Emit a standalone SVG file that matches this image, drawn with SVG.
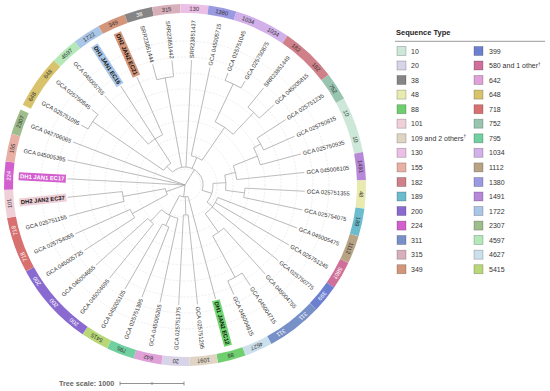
<svg xmlns="http://www.w3.org/2000/svg" width="550" height="391" viewBox="0 0 550 391">
<style>
text{font-family:"Liberation Sans",Arial,sans-serif}
.g{fill:none;stroke:#e0e0e0;stroke-width:0.6;stroke-dasharray:2 1.5}
.b path,.b circle{fill:none;stroke:#aaaaaa;stroke-width:0.75}
.seg{fill:none;stroke-width:9}
.sl{font-size:5.8px;fill:#333;text-anchor:middle;dominant-baseline:central}
.sw{fill:#fff}
.lf{font-size:5.8px;fill:#333;dominant-baseline:central}
.lr{text-anchor:end}
.hb{font-weight:bold;fill:#111}
.lg{font-size:7px;fill:#333;dominant-baseline:central}
.sq{stroke:#000;stroke-opacity:0.25;stroke-width:0.8}
</style>
<rect width="550" height="391" fill="#fff"/>
<g id="grid">
<circle class="g" cx="185" cy="185" r="16"/><circle class="g" cx="185" cy="185" r="32"/><circle class="g" cx="185" cy="185" r="48"/><circle class="g" cx="185" cy="185" r="64"/><circle class="g" cx="185" cy="185" r="80"/><circle class="g" cx="185" cy="185" r="96"/><circle class="g" cx="185" cy="185" r="112"/><circle class="g" cx="185" cy="185" r="128"/><circle class="g" cx="185" cy="185" r="144"/>
</g>
<g id="connectors" class="b">
<path d="M185 185V167" transform="rotate(31.5 185 185)"/>
<path d="M185 185V67" transform="rotate(273 185 185)"/>
<path d="M185 185V65" transform="rotate(282 185 185)"/>
<path d="M185 185V65" transform="rotate(291 185 185)"/>
<path d="M185 185V165" transform="rotate(250.5 185 185)"/>
<path d="M185 185V173" transform="rotate(186.4 185 185)"/>
<path d="M185 167V159" transform="rotate(315.75 185 185)"/>
<path d="M185 167V76" transform="rotate(349.5 185 185)"/>
<path d="M185 167V60" transform="rotate(3 185 185)"/>
<path d="M185 167V155" transform="rotate(23.25 185 185)"/>
<path d="M185 167V157" transform="rotate(107.3 185 185)"/>
<path d="M185 159V73" transform="rotate(304.5 185 185)"/>
<path d="M185 73V65" transform="rotate(300 185 185)"/>
<path d="M185 73V65" transform="rotate(309 185 185)"/>
<path d="M185 159V130" transform="rotate(327 185 185)"/>
<path d="M185 130V65" transform="rotate(318 185 185)"/>
<path d="M185 130V67" transform="rotate(327 185 185)"/>
<path d="M185 130V67" transform="rotate(336 185 185)"/>
<path d="M185 76V60" transform="rotate(345 185 185)"/>
<path d="M185 76V60" transform="rotate(354 185 185)"/>
<path d="M185 155V65" transform="rotate(12 185 185)"/>
<path d="M185 155V115" transform="rotate(34.5 185 185)"/>
<path d="M185 115V73" transform="rotate(25.5 185 185)"/>
<path d="M185 73V65" transform="rotate(21 185 185)"/>
<path d="M185 73V65" transform="rotate(30 185 185)"/>
<path d="M185 115V85" transform="rotate(43.5 185 185)"/>
<path d="M185 85V60" transform="rotate(39 185 185)"/>
<path d="M185 85V65" transform="rotate(48 185 185)"/>
<path d="M185 157V144" transform="rotate(86.75 185 185)"/>
<path d="M185 144V133" transform="rotate(76 185 185)"/>
<path d="M185 133V107" transform="rotate(68.25 185 185)"/>
<path d="M185 107V99" transform="rotate(61.5 185 185)"/>
<path d="M185 99V65" transform="rotate(57 185 185)"/>
<path d="M185 99V65" transform="rotate(66 185 185)"/>
<path d="M185 107V65" transform="rotate(75 185 185)"/>
<path d="M185 133V65" transform="rotate(84 185 185)"/>
<path d="M185 144V125" transform="rotate(97.5 185 185)"/>
<path d="M185 125V65" transform="rotate(93 185 185)"/>
<path d="M185 125V65" transform="rotate(102 185 185)"/>
<path d="M185 157V150" transform="rotate(127.9 185 185)"/>
<path d="M185 150V65" transform="rotate(111 185 185)"/>
<path d="M185 150V65" transform="rotate(120 185 185)"/>
<path d="M185 150V65" transform="rotate(129 185 185)"/>
<path d="M185 150V127" transform="rotate(144.75 185 185)"/>
<path d="M185 127V65" transform="rotate(138 185 185)"/>
<path d="M185 127V80" transform="rotate(151.5 185 185)"/>
<path d="M185 80V65" transform="rotate(147 185 185)"/>
<path d="M185 80V65" transform="rotate(156 185 185)"/>
<path d="M185 165V125" transform="rotate(241.5 185 185)"/>
<path d="M185 125V65" transform="rotate(237 185 185)"/>
<path d="M185 125V65" transform="rotate(246 185 185)"/>
<path d="M185 165V122" transform="rotate(259.5 185 185)"/>
<path d="M185 122V65" transform="rotate(255 185 185)"/>
<path d="M185 122V67" transform="rotate(264 185 185)"/>
<path d="M185 173V67" transform="rotate(165 185 185)"/>
<path d="M185 173V155" transform="rotate(178.5 185 185)"/>
<path d="M185 155V65" transform="rotate(174 185 185)"/>
<path d="M185 155V65" transform="rotate(183 185 185)"/>
<path d="M185 173V151" transform="rotate(207.75 185 185)"/>
<path d="M185 151V65" transform="rotate(192 185 185)"/>
<path d="M185 151V140" transform="rotate(205.5 185 185)"/>
<path d="M185 140V65" transform="rotate(201 185 185)"/>
<path d="M185 140V65" transform="rotate(210 185 185)"/>
<path d="M185 151V135" transform="rotate(223.5 185 185)"/>
<path d="M185 135V65" transform="rotate(219 185 185)"/>
<path d="M185 135V65" transform="rotate(228 185 185)"/>
<circle cx="185" cy="185" r="18" pathLength="360" stroke-dasharray="151.55 400" transform="rotate(225.75 185 185)"/>
<circle cx="185" cy="185" r="26" pathLength="360" stroke-dasharray="22.5 400" transform="rotate(214.5 185 185)"/>
<circle cx="185" cy="185" r="112" pathLength="360" stroke-dasharray="9 400" transform="rotate(210 185 185)"/>
<circle cx="185" cy="185" r="55" pathLength="360" stroke-dasharray="18 400" transform="rotate(228 185 185)"/>
<circle cx="185" cy="185" r="109" pathLength="360" stroke-dasharray="9 400" transform="rotate(255 185 185)"/>
<circle cx="185" cy="185" r="30" pathLength="360" stroke-dasharray="22.5 400" transform="rotate(-78 185 185)"/>
<circle cx="185" cy="185" r="70" pathLength="360" stroke-dasharray="18 400" transform="rotate(-64.5 185 185)"/>
<circle cx="185" cy="185" r="112" pathLength="360" stroke-dasharray="9 400" transform="rotate(-69 185 185)"/>
<circle cx="185" cy="185" r="100" pathLength="360" stroke-dasharray="9 400" transform="rotate(-51 185 185)"/>
<circle cx="185" cy="185" r="28" pathLength="360" stroke-dasharray="41.15 400" transform="rotate(-3.25 185 185)"/>
<circle cx="185" cy="185" r="41" pathLength="360" stroke-dasharray="21.5 400" transform="rotate(-14 185 185)"/>
<circle cx="185" cy="185" r="52" pathLength="360" stroke-dasharray="15.75 400" transform="rotate(-21.75 185 185)"/>
<circle cx="185" cy="185" r="78" pathLength="360" stroke-dasharray="13.5 400" transform="rotate(-28.5 185 185)"/>
<circle cx="185" cy="185" r="86" pathLength="360" stroke-dasharray="9 400" transform="rotate(-33 185 185)"/>
<circle cx="185" cy="185" r="60" pathLength="360" stroke-dasharray="9 400" transform="rotate(3 185 185)"/>
<circle cx="185" cy="185" r="35" pathLength="360" stroke-dasharray="33.75 400" transform="rotate(21 185 185)"/>
<circle cx="185" cy="185" r="58" pathLength="360" stroke-dasharray="13.5 400" transform="rotate(48 185 185)"/>
<circle cx="185" cy="185" r="105" pathLength="360" stroke-dasharray="9 400" transform="rotate(57 185 185)"/>
<circle cx="185" cy="185" r="20" pathLength="360" stroke-dasharray="18 400" transform="rotate(151.5 185 185)"/>
<circle cx="185" cy="185" r="60" pathLength="360" stroke-dasharray="9 400" transform="rotate(147 185 185)"/>
<circle cx="185" cy="185" r="63" pathLength="360" stroke-dasharray="9 400" transform="rotate(165 185 185)"/>
<circle cx="185" cy="185" r="12" pathLength="360" stroke-dasharray="42.75 400" transform="rotate(75 185 185)"/>
<circle cx="185" cy="185" r="30" pathLength="360" stroke-dasharray="9 400" transform="rotate(84 185 185)"/>
<circle cx="185" cy="185" r="34" pathLength="360" stroke-dasharray="31.5 400" transform="rotate(102 185 185)"/>
<circle cx="185" cy="185" r="45" pathLength="360" stroke-dasharray="9 400" transform="rotate(111 185 185)"/>
<circle cx="185" cy="185" r="50" pathLength="360" stroke-dasharray="9 400" transform="rotate(129 185 185)"/>
</g>
<g id="ring">
<circle class="seg" cx="185" cy="185" r="176.5" pathLength="360" stroke="#d8c26c" stroke-dasharray="17.2 400" transform="rotate(206.3 185 185)"/>
<circle class="seg" cx="185" cy="185" r="176.5" pathLength="360" stroke="#b4e8b8" stroke-dasharray="9 400" transform="rotate(223.5 185 185)"/>
<circle class="seg" cx="185" cy="185" r="176.5" pathLength="360" stroke="#a9c6e6" stroke-dasharray="9 400" transform="rotate(232.5 185 185)"/>
<circle class="seg" cx="185" cy="185" r="176.5" pathLength="360" stroke="#d4967a" stroke-dasharray="9 400" transform="rotate(241.5 185 185)"/>
<circle class="seg" cx="185" cy="185" r="176.5" pathLength="360" stroke="#858585" stroke-dasharray="9 400" transform="rotate(250.5 185 185)"/>
<circle class="seg" cx="185" cy="185" r="176.5" pathLength="360" stroke="#d8b0bc" stroke-dasharray="9 400" transform="rotate(259.5 185 185)"/>
<circle class="seg" cx="185" cy="185" r="176.5" pathLength="360" stroke="#ecc0e6" stroke-dasharray="9 400" transform="rotate(268.5 185 185)"/>
<circle class="seg" cx="185" cy="185" r="176.5" pathLength="360" stroke="#9a9ae2" stroke-dasharray="9 400" transform="rotate(-82.5 185 185)"/>
<circle class="seg" cx="185" cy="185" r="176.5" pathLength="360" stroke="#d2b0ea" stroke-dasharray="18 400" transform="rotate(-73.5 185 185)"/>
<circle class="seg" cx="185" cy="185" r="176.5" pathLength="360" stroke="#d08088" stroke-dasharray="18 400" transform="rotate(-55.5 185 185)"/>
<circle class="seg" cx="185" cy="185" r="176.5" pathLength="360" stroke="#98c4b0" stroke-dasharray="9 400" transform="rotate(-37.5 185 185)"/>
<circle class="seg" cx="185" cy="185" r="176.5" pathLength="360" stroke="#cde8d9" stroke-dasharray="18 400" transform="rotate(-28.5 185 185)"/>
<circle class="seg" cx="185" cy="185" r="176.5" pathLength="360" stroke="#b888d8" stroke-dasharray="9 400" transform="rotate(-10.5 185 185)"/>
<circle class="seg" cx="185" cy="185" r="176.5" pathLength="360" stroke="#e8eab0" stroke-dasharray="9 400" transform="rotate(-1.5 185 185)"/>
<circle class="seg" cx="185" cy="185" r="176.5" pathLength="360" stroke="#6bbccc" stroke-dasharray="9 400" transform="rotate(7.5 185 185)"/>
<circle class="seg" cx="185" cy="185" r="176.5" pathLength="360" stroke="#b8a484" stroke-dasharray="9 400" transform="rotate(16.5 185 185)"/>
<circle class="seg" cx="185" cy="185" r="176.5" pathLength="360" stroke="#d0709a" stroke-dasharray="9 400" transform="rotate(25.5 185 185)"/>
<circle class="seg" cx="185" cy="185" r="176.5" pathLength="360" stroke="#6d7fd0" stroke-dasharray="9 400" transform="rotate(34.5 185 185)"/>
<circle class="seg" cx="185" cy="185" r="176.5" pathLength="360" stroke="#7890c8" stroke-dasharray="18 400" transform="rotate(43.5 185 185)"/>
<circle class="seg" cx="185" cy="185" r="176.5" pathLength="360" stroke="#cce0ec" stroke-dasharray="9 400" transform="rotate(61.5 185 185)"/>
<circle class="seg" cx="185" cy="185" r="176.5" pathLength="360" stroke="#6fcf6f" stroke-dasharray="9 400" transform="rotate(70.5 185 185)"/>
<circle class="seg" cx="185" cy="185" r="176.5" pathLength="360" stroke="#e0d4c4" stroke-dasharray="9 400" transform="rotate(79.5 185 185)"/>
<circle class="seg" cx="185" cy="185" r="176.5" pathLength="360" stroke="#d9d3e8" stroke-dasharray="9 400" transform="rotate(88.5 185 185)"/>
<circle class="seg" cx="185" cy="185" r="176.5" pathLength="360" stroke="#e0a0d8" stroke-dasharray="9 400" transform="rotate(97.5 185 185)"/>
<circle class="seg" cx="185" cy="185" r="176.5" pathLength="360" stroke="#70d0a0" stroke-dasharray="9 400" transform="rotate(106.5 185 185)"/>
<circle class="seg" cx="185" cy="185" r="176.5" pathLength="360" stroke="#b8d878" stroke-dasharray="9 400" transform="rotate(115.5 185 185)"/>
<circle class="seg" cx="185" cy="185" r="176.5" pathLength="360" stroke="#8a6ad0" stroke-dasharray="27 400" transform="rotate(124.5 185 185)"/>
<circle class="seg" cx="185" cy="185" r="176.5" pathLength="360" stroke="#d87070" stroke-dasharray="18 400" transform="rotate(151.5 185 185)"/>
<circle class="seg" cx="185" cy="185" r="176.5" pathLength="360" stroke="#f0d0d8" stroke-dasharray="9 400" transform="rotate(169.5 185 185)"/>
<circle class="seg" cx="185" cy="185" r="176.5" pathLength="360" stroke="#d35fcf" stroke-dasharray="9 400" transform="rotate(178.5 185 185)"/>
<circle class="seg" cx="185" cy="185" r="176.5" pathLength="360" stroke="#e8b0a4" stroke-dasharray="9 400" transform="rotate(187.5 185 185)"/>
<circle class="seg" cx="185" cy="185" r="176.5" pathLength="360" stroke="#9ebc8c" stroke-dasharray="8.2 400" transform="rotate(196.5 185 185)"/>
<text class="sl" x="185" y="8.5" transform="rotate(300 185 185)">648</text>
<text class="sl" x="185" y="8.5" transform="rotate(309 185 185)">648</text>
<text class="sl" x="185" y="8.5" transform="rotate(318 185 185)">4597</text>
<text class="sl" x="185" y="8.5" transform="rotate(327 185 185)">1722</text>
<text class="sl" x="185" y="8.5" transform="rotate(336 185 185)">349</text>
<text class="sl sw" x="185" y="8.5" transform="rotate(345 185 185)">38</text>
<text class="sl" x="185" y="8.5" transform="rotate(354 185 185)">315</text>
<text class="sl" x="185" y="8.5" transform="rotate(3 185 185)">130</text>
<text class="sl" x="185" y="8.5" transform="rotate(12 185 185)">1380</text>
<text class="sl" x="185" y="8.5" transform="rotate(21 185 185)">1034</text>
<text class="sl" x="185" y="8.5" transform="rotate(30 185 185)">1034</text>
<text class="sl" x="185" y="8.5" transform="rotate(39 185 185)">182</text>
<text class="sl" x="185" y="8.5" transform="rotate(48 185 185)">182</text>
<text class="sl" x="185" y="8.5" transform="rotate(57 185 185)">752</text>
<text class="sl" x="185" y="8.5" transform="rotate(66 185 185)">10</text>
<text class="sl" x="185" y="8.5" transform="rotate(75 185 185)">10</text>
<text class="sl" x="185" y="8.5" transform="rotate(84 185 185)">1491</text>
<text class="sl" x="185" y="8.5" transform="rotate(93 185 185)">48</text>
<text class="sl" x="185" y="8.5" transform="rotate(102 185 185)">189</text>
<text class="sl" x="185" y="8.5" transform="rotate(111 185 185)">1112</text>
<text class="sl sw" x="185" y="8.5" transform="rotate(120 185 185)">580†</text>
<text class="sl sw" x="185" y="8.5" transform="rotate(129 185 185)">399</text>
<text class="sl sw" x="185" y="8.5" transform="rotate(138 185 185)">311</text>
<text class="sl sw" x="185" y="8.5" transform="rotate(147 185 185)">311</text>
<text class="sl" x="185" y="8.5" transform="rotate(156 185 185)">4627</text>
<text class="sl" x="185" y="8.5" transform="rotate(165 185 185)">88</text>
<text class="sl" x="185" y="8.5" transform="rotate(174 185 185)">109†</text>
<text class="sl" x="185" y="8.5" transform="rotate(183 185 185)">20</text>
<text class="sl" x="185" y="8.5" transform="rotate(192 185 185)">642</text>
<text class="sl" x="185" y="8.5" transform="rotate(201 185 185)">795</text>
<text class="sl" x="185" y="8.5" transform="rotate(210 185 185)">5415</text>
<text class="sl sw" x="185" y="8.5" transform="rotate(219 185 185)">200</text>
<text class="sl sw" x="185" y="8.5" transform="rotate(228 185 185)">200</text>
<text class="sl sw" x="185" y="8.5" transform="rotate(237 185 185)">200</text>
<text class="sl sw" x="185" y="8.5" transform="rotate(246 185 185)">718</text>
<text class="sl sw" x="185" y="8.5" transform="rotate(255 185 185)">718</text>
<text class="sl" x="185" y="8.5" transform="rotate(264 185 185)">101</text>
<text class="sl sw" x="185" y="8.5" transform="rotate(273 185 185)">224</text>
<text class="sl" x="185" y="8.5" transform="rotate(282 185 185)">155</text>
<text class="sl" x="185" y="8.5" transform="rotate(291 185 185)">2307</text>
</g>
<g id="leaves" class="lf">
<g id="n0" transform="rotate(30 185 185)"><text x="20" y="185">GCA 025751095</text></g>
<g id="n1" transform="rotate(39 185 185)"><text x="20" y="185">GCA 025750845</text></g>
<g id="n2" transform="rotate(48 185 185)"><text x="20" y="185">GCA 045005755</text></g>
<g id="n3" transform="rotate(57 185 185)"><rect x="18.5" y="181" width="47.2" height="8" fill="#a9c6e6"/><text class="hb" x="20" y="185">DH1 JAN1 EC16</text></g>
<g id="n4" transform="rotate(66 185 185)"><rect x="18.5" y="181" width="47.2" height="8" fill="#d4967a"/><text class="hb" x="20" y="185">DH2 JAN2 EC21</text></g>
<g id="n5" transform="rotate(75 185 185)"><text x="20" y="185">SRR23851444</text></g>
<g id="n6" transform="rotate(84 185 185)"><text x="20" y="185">SRR23851442</text></g>
<g id="n7" transform="rotate(-87 185 185)"><text class="lr" x="350" y="185">SRR23851437</text></g>
<g id="n8" transform="rotate(-78 185 185)"><text class="lr" x="350" y="185">GCA 045005715</text></g>
<g id="n9" transform="rotate(-69 185 185)"><text class="lr" x="350" y="185">GCA 025751045</text></g>
<g id="n10" transform="rotate(-60 185 185)"><text class="lr" x="350" y="185">GCA 025750875</text></g>
<g id="n11" transform="rotate(-51 185 185)"><text class="lr" x="350" y="185">SRR23851449</text></g>
<g id="n12" transform="rotate(-42 185 185)"><text class="lr" x="350" y="185">GCA 045005815</text></g>
<g id="n13" transform="rotate(-33 185 185)"><text class="lr" x="350" y="185">GCA 025751235</text></g>
<g id="n14" transform="rotate(-24 185 185)"><text class="lr" x="350" y="185">GCA 025750815</text></g>
<g id="n15" transform="rotate(-15 185 185)"><text class="lr" x="350" y="185">GCA 025750935</text></g>
<g id="n16" transform="rotate(-6 185 185)"><text class="lr" x="350" y="185">GCA 045006105</text></g>
<g id="n17" transform="rotate(3 185 185)"><text class="lr" x="350" y="185">GCA 025751355</text></g>
<g id="n18" transform="rotate(12 185 185)"><text class="lr" x="350" y="185">GCA 025754075</text></g>
<g id="n19" transform="rotate(21 185 185)"><text class="lr" x="350" y="185">GCA 045005475</text></g>
<g id="n20" transform="rotate(30 185 185)"><text class="lr" x="350" y="185">GCA 025751245</text></g>
<g id="n21" transform="rotate(39 185 185)"><text class="lr" x="350" y="185">GCA 025750775</text></g>
<g id="n22" transform="rotate(48 185 185)"><text class="lr" x="350" y="185">GCA 045004755</text></g>
<g id="n23" transform="rotate(57 185 185)"><text class="lr" x="350" y="185">GCA 045004715</text></g>
<g id="n24" transform="rotate(66 185 185)"><text class="lr" x="350" y="185">GCA 045004815</text></g>
<g id="n25" transform="rotate(75 185 185)"><rect x="304.3" y="181" width="47.2" height="8" fill="#6fd66f"/><text class="lr hb" x="350" y="185">DH1 JAN2 EC12</text></g>
<g id="n26" transform="rotate(84 185 185)"><text class="lr" x="350" y="185">GCA 025751295</text></g>
<g id="n27" transform="rotate(273 185 185)"><text x="20" y="185">GCA 025751375</text></g>
<g id="n28" transform="rotate(282 185 185)"><text x="20" y="185">GCA 045005205</text></g>
<g id="n29" transform="rotate(291 185 185)"><text x="20" y="185">GCA 025751395</text></g>
<g id="n30" transform="rotate(300 185 185)"><text x="20" y="185">GCA 045005105</text></g>
<g id="n31" transform="rotate(309 185 185)"><text x="20" y="185">GCA 045004695</text></g>
<g id="n32" transform="rotate(318 185 185)"><text x="20" y="185">GCA 045004655</text></g>
<g id="n33" transform="rotate(327 185 185)"><text x="20" y="185">GCA 045005735</text></g>
<g id="n34" transform="rotate(336 185 185)"><text x="20" y="185">GCA 025754055</text></g>
<g id="n35" transform="rotate(345 185 185)"><text x="20" y="185">GCA 025751155</text></g>
<g id="n36" transform="rotate(354 185 185)"><rect x="18.5" y="181" width="47.2" height="8" fill="#f0d0d8"/><text class="hb" x="20" y="185">DH2 JAN2 EC37</text></g>
<g id="n37" transform="rotate(3 185 185)"><rect x="18.5" y="181" width="47.2" height="8" fill="#d35fcf"/><text class="hb" x="20" y="185" style="fill:#fff">DH1 JAN1 EC17</text></g>
<g id="n38" transform="rotate(12 185 185)"><text x="20" y="185">GCA 045005395</text></g>
<g id="n39" transform="rotate(21 185 185)"><text x="20" y="185">GCA 042706065</text></g>
</g>
<g id="scale">
<text x="59" y="383.5" font-size="7.2" font-weight="bold" fill="#666" dominant-baseline="central">Tree scale: 1000</text>
<path d="M120 383.5H184M120 381.5V385.5M152 382V385M184 381.5V385.5" stroke="#777" stroke-width="0.8" fill="none"/>
</g>
<g id="legend">
<text x="396" y="32.5" font-size="7.5" font-weight="bold" fill="#222" dominant-baseline="central">Sequence Type</text>
<path d="M395 41.3H545" stroke="#999" stroke-width="1"/>
<g class="sq">
<rect x="397" y="46.5" width="9" height="9" fill="#cde8d9"/>
<rect x="397" y="61" width="9" height="9" fill="#d9d3e8"/>
<rect x="397" y="75.5" width="9" height="9" fill="#858585"/>
<rect x="397" y="90.1" width="9" height="9" fill="#e8eab0"/>
<rect x="397" y="104.7" width="9" height="9" fill="#6fcf6f"/>
<rect x="397" y="119.2" width="9" height="9" fill="#f0d0d8"/>
<rect x="397" y="133.8" width="9" height="9" fill="#e0d4c4"/>
<rect x="397" y="148.3" width="9" height="9" fill="#ecc0e6"/>
<rect x="397" y="162.9" width="9" height="9" fill="#e8b0a4"/>
<rect x="397" y="177.5" width="9" height="9" fill="#d08088"/>
<rect x="397" y="192" width="9" height="9" fill="#6bbccc"/>
<rect x="397" y="206.5" width="9" height="9" fill="#8a6ad0"/>
<rect x="397" y="221.1" width="9" height="9" fill="#d35fcf"/>
<rect x="397" y="235.5" width="9" height="9" fill="#7890c8"/>
<rect x="397" y="250.2" width="9" height="9" fill="#d8b0bc"/>
<rect x="397" y="264.7" width="9" height="9" fill="#d4967a"/>
<rect x="474" y="46.5" width="9" height="9" fill="#6d7fd0"/>
<rect x="474" y="61" width="9" height="9" fill="#d0709a"/>
<rect x="474" y="75.5" width="9" height="9" fill="#e0a0d8"/>
<rect x="474" y="90.1" width="9" height="9" fill="#d8c26c"/>
<rect x="474" y="104.7" width="9" height="9" fill="#d87070"/>
<rect x="474" y="119.2" width="9" height="9" fill="#98c4b0"/>
<rect x="474" y="133.8" width="9" height="9" fill="#70d0a0"/>
<rect x="474" y="148.3" width="9" height="9" fill="#d2b0ea"/>
<rect x="474" y="162.9" width="9" height="9" fill="#b8a484"/>
<rect x="474" y="177.5" width="9" height="9" fill="#9a9ae2"/>
<rect x="474" y="192" width="9" height="9" fill="#b888d8"/>
<rect x="474" y="206.5" width="9" height="9" fill="#a9c6e6"/>
<rect x="474" y="221.1" width="9" height="9" fill="#9ebc8c"/>
<rect x="474" y="235.5" width="9" height="9" fill="#b4e8b8"/>
<rect x="474" y="250.2" width="9" height="9" fill="#cce0ec"/>
<rect x="474" y="264.7" width="9" height="9" fill="#b8d878"/>
</g>
<g class="lg">
<text x="411" y="51">10</text>
<text x="411" y="65.5">20</text>
<text x="411" y="80">38</text>
<text x="411" y="94.6">48</text>
<text x="411" y="109.2">88</text>
<text x="411" y="123.7">101</text>
<text x="411" y="138.3">109 and 2 others<tspan font-size="4.5" dy="-2">†</tspan></text>
<text x="411" y="152.8">130</text>
<text x="411" y="167.4">155</text>
<text x="411" y="182">182</text>
<text x="411" y="196.5">189</text>
<text x="411" y="211">200</text>
<text x="411" y="225.6">224</text>
<text x="411" y="240">311</text>
<text x="411" y="254.7">315</text>
<text x="411" y="269.2">349</text>
<text x="489" y="51">399</text>
<text x="489" y="65.5">580 and 1 other<tspan font-size="4.5" dy="-2">†</tspan></text>
<text x="489" y="80">642</text>
<text x="489" y="94.6">648</text>
<text x="489" y="109.2">718</text>
<text x="489" y="123.7">752</text>
<text x="489" y="138.3">795</text>
<text x="489" y="152.8">1034</text>
<text x="489" y="167.4">1112</text>
<text x="489" y="182">1380</text>
<text x="489" y="196.5">1491</text>
<text x="489" y="211">1722</text>
<text x="489" y="225.6">2307</text>
<text x="489" y="240">4597</text>
<text x="489" y="254.7">4627</text>
<text x="489" y="269.2">5415</text>
</g>
</g>
</svg>
